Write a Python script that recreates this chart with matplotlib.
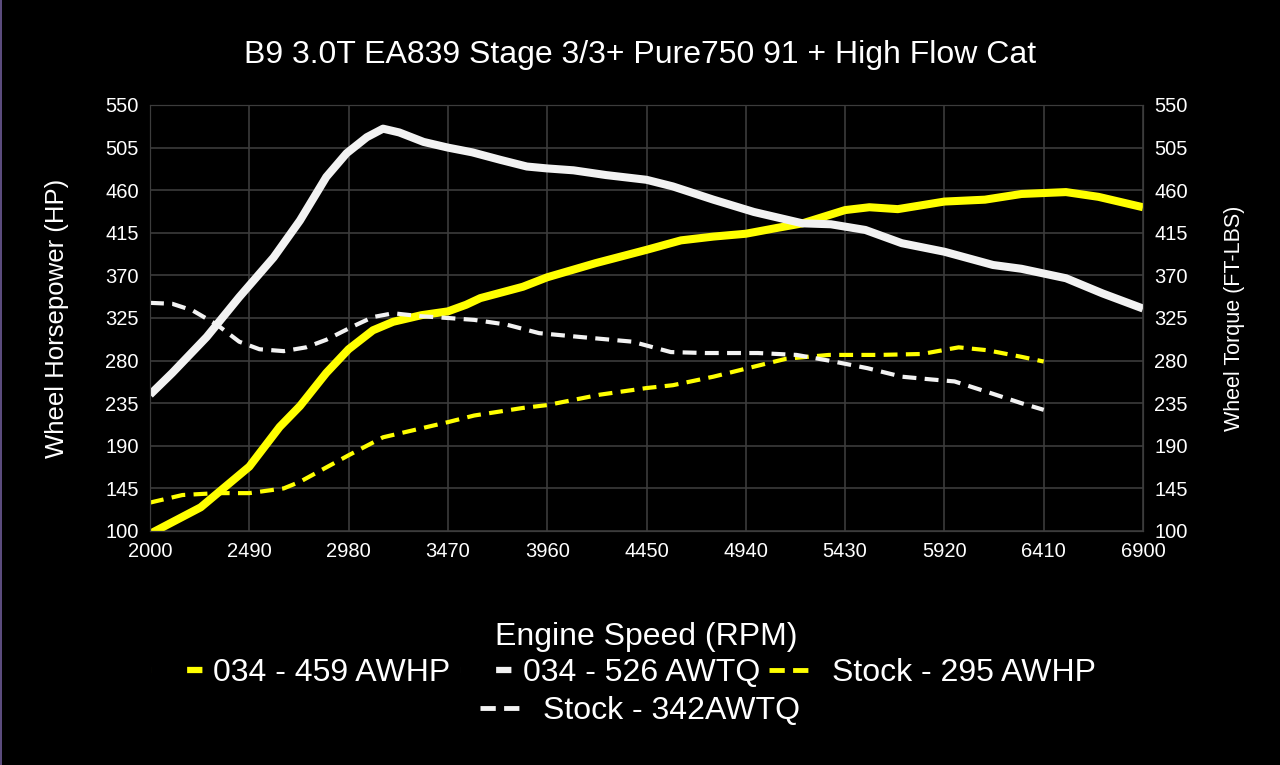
import numpy as np
import matplotlib
matplotlib.use('Agg')
import matplotlib.pyplot as plt
from matplotlib.lines import Line2D
from matplotlib.patches import Rectangle

plt.rcParams['font.family'] = ['Liberation Sans', 'DejaVu Sans']
plt.rcParams['lines.scale_dashes'] = False

# 034 tune - wheel horsepower
hp_rpm = [2000, 2250, 2490, 2640, 2740, 2870, 2980, 3100, 3200, 3340, 3470, 3560,
          3630, 3840, 3960, 4200, 4450, 4620, 4780, 4940, 5090, 5220, 5430, 5550,
          5690, 5920, 6120, 6300, 6410, 6520, 6680, 6900]
hp_034 = [97, 125, 168, 210, 232, 267, 292, 312, 321, 328, 332, 339,
          346, 358, 368, 383, 397, 407, 411, 414, 420, 425, 439, 442,
          440, 448, 450, 456, 457, 458, 453, 442]

# 034 tune - wheel torque
tq_rpm = [2000, 2110, 2280, 2440, 2610, 2740, 2870, 2970, 3070, 3150, 3230, 3350,
          3470, 3590, 3730, 3860, 3960, 4090, 4250, 4450, 4580, 4780, 4980, 5220,
          5360, 5530, 5710, 5920, 6160, 6300, 6520, 6700, 6900]
tq_034 = [244, 267, 305, 347, 389, 428, 474, 499, 516, 525, 521, 511,
          505, 500, 492, 485, 483, 481, 476, 471, 464, 450, 437, 425,
          424, 418, 404, 395, 381, 377, 367, 351, 335]

# stock - wheel horsepower
stock_hp_rpm = [2000, 2160, 2330, 2490, 2660, 2740, 2980, 3150, 3470, 3600, 3840, 3960,
                4220, 4450, 4580, 4780, 4950, 5140, 5350, 5600, 5810, 5990, 6130,
                6300, 6410]
hp_stock = [130, 138, 140, 140, 145, 152, 180, 199, 215, 222, 230, 233,
            244, 251, 254, 263, 272, 282, 286, 286, 287, 294, 291,
            284, 279]

# stock - wheel torque
stock_tq_rpm = [2000, 2110, 2210, 2330, 2440, 2540, 2660, 2770, 2870, 3000, 3100, 3200,
                3330, 3470, 3600, 3760, 3920, 4120, 4380, 4570, 4740, 5000, 5190,
                5350, 5540, 5710, 5860, 5970, 6130, 6300, 6410]
tq_stock = [341, 340, 333, 318, 300, 292, 290, 294, 302, 316, 326, 330,
            327, 325, 323, 318, 309, 305, 300, 289, 288, 288, 286,
            280, 272, 263, 260, 258, 247, 235, 228]

x_ticks = np.arange(2000, 6901, 490)
y_ticks = np.arange(100, 551, 45)

yellow = '#ffff00'
white = '#f2f2f2'
grid_c = '#3c3c3c'
dash = (10, 6)

fig = plt.figure(figsize=(12.8, 7.65), dpi=100, facecolor='black')
ax = fig.add_axes([150 / 1280, 1 - 531 / 765, 993 / 1280, 426 / 765])
ax.set_facecolor('black')
ax2 = ax.twinx()

ax.plot(hp_rpm, hp_034, color=yellow, lw=5.8, solid_capstyle='butt', solid_joinstyle='round')
ax2.plot(tq_rpm, tq_034, color=white, lw=5.8, solid_capstyle='butt', solid_joinstyle='round')
ax.plot(stock_hp_rpm, hp_stock, color=yellow, lw=3, dashes=dash)
ax2.plot(stock_tq_rpm, tq_stock, color=white, lw=3, dashes=dash)

for a in (ax, ax2):
    a.set_xlim(2000, 6900)
    a.set_ylim(100, 550)
    a.set_yticks(y_ticks)
    a.tick_params(length=0, colors='white', labelsize=14.5, pad=8)
    for s in a.spines.values():
        s.set_color(grid_c)
ax.set_xticks(x_ticks)
ax.grid(True, color=grid_c, lw=1.2)
ax.set_axisbelow(True)

ax.set_ylabel('Wheel Horsepower (HP)', color='white', fontsize=18.5, labelpad=26)
ax2.set_ylabel('Wheel Torque (FT-LBS)', color='white', fontsize=15.5, labelpad=26)
ax.set_xlabel('Engine Speed (RPM)', color='white', fontsize=23, labelpad=44)

fig.text(0.5, 1 - 55 / 765, 'B9 3.0T EA839 Stage 3/3+ Pure750 91 + High Flow Cat',
         color='white', fontsize=23, ha='center', va='center')

# legend keys: short solid stub, or two dashes
solid_key = (0, (0.01, 26, 11, 100))
dash_key = (0, (11, 6, 11, 100))
h1 = [Line2D([], [], color=yellow, lw=4.5, linestyle=solid_key),
      Line2D([], [], color=white, lw=4.5, linestyle=solid_key),
      Line2D([], [], color=yellow, lw=3.5, linestyle=dash_key)]
l1 = ['034 - 459 AWHP', '034 - 526 AWTQ', 'Stock - 295 AWHP']
h2 = [Line2D([], [], color=white, lw=3.5, linestyle=dash_key)]
l2 = ['Stock - 342AWTQ']
leg_kw = dict(frameon=False, labelcolor='white', fontsize=23, handlelength=1.63,
              handletextpad=0.33, columnspacing=0.3, loc='center')
fig.legend(h1, l1, ncol=3, bbox_to_anchor=(0.487, 1 - 673 / 765), **leg_kw)
fig.legend(h2, l2, ncol=1, bbox_to_anchor=(0.5, 1 - 711 / 765), **leg_kw)

fig.add_artist(Rectangle((0, 0), 2 / 1280, 1, transform=fig.transFigure,
                         color='#5b4b7d', lw=0))

fig.savefig('out.png', dpi=100, facecolor='black')
